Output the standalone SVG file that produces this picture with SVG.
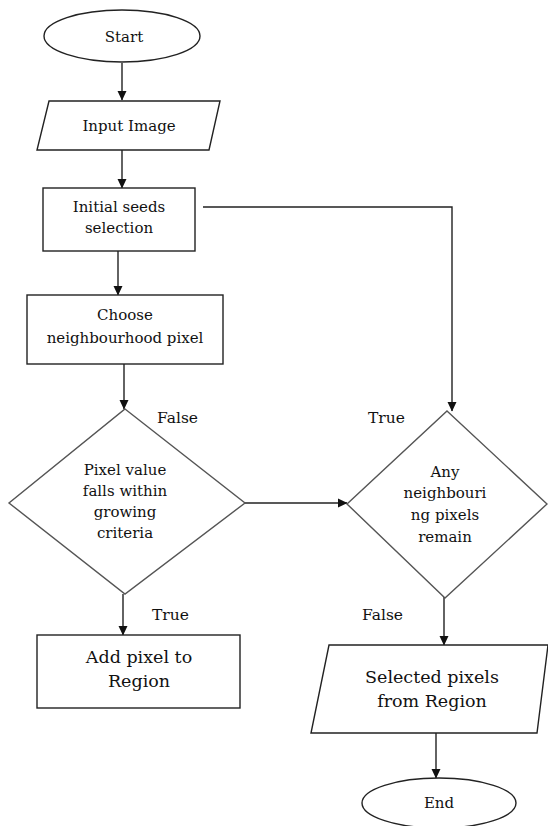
<svg xmlns="http://www.w3.org/2000/svg" width="548" height="826" viewBox="0 0 548 826">
<style>
.shape{fill:#fff;stroke:#222;stroke-width:1.4}
.dia{fill:#fff;stroke:#555;stroke-width:1.4}
.conn{fill:none;stroke:#222;stroke-width:1.4}
text{font-family:'DejaVu Serif',serif;fill:#111;text-anchor:middle}
.s{font-size:15px}
.b{font-size:17.5px}
.lbl{font-size:15.5px;text-anchor:start}
</style>
<defs>
<marker id="arr" markerWidth="10" markerHeight="10" refX="9" refY="5" orient="auto" markerUnits="userSpaceOnUse">
<path d="M0,0.5 L9.5,5 L0,9.5 Z" fill="#111"/>
</marker>
</defs>
<g id="connectors">
<line class="conn" x1="122" y1="63" x2="122" y2="100" marker-end="url(#arr)"/>
<line class="conn" x1="122" y1="150" x2="122" y2="188" marker-end="url(#arr)"/>
<line class="conn" x1="118" y1="251" x2="118" y2="295" marker-end="url(#arr)"/>
<line class="conn" x1="124" y1="364" x2="124" y2="409" marker-end="url(#arr)"/>
<polyline class="conn" points="203,207 452,207 452,411" marker-end="url(#arr)"/>
<line class="conn" x1="245" y1="503" x2="347" y2="503" marker-end="url(#arr)"/>
<line class="conn" x1="123" y1="594" x2="123" y2="635" marker-end="url(#arr)"/>
<line class="conn" x1="444" y1="597" x2="444" y2="645" marker-end="url(#arr)"/>
<line class="conn" x1="436" y1="733" x2="436" y2="778" marker-end="url(#arr)"/>
<text class="lbl" x="157" y="423">False</text>
<text class="lbl" x="368" y="423">True</text>
<text class="lbl" x="152" y="620">True</text>
<text class="lbl" x="362" y="620">False</text>
</g>
<g id="start">
<ellipse class="shape" cx="122" cy="36" rx="78" ry="26"/>
<text class="s" x="124" y="42">Start</text>
</g>
<g id="input">
<polygon class="shape" points="49,101 220,101 209,150 37,150"/>
<text class="s" x="129" y="131">Input Image</text>
</g>
<g id="seeds">
<rect class="shape" x="43" y="188" width="152" height="63"/>
<text class="s" x="119" y="212">Initial seeds</text>
<text class="s" x="119" y="233">selection</text>
</g>
<g id="choose">
<rect class="shape" x="27" y="295" width="196" height="69"/>
<text class="s" x="125" y="320">Choose</text>
<text class="s" x="125" y="343">neighbourhood pixel</text>
</g>
<g id="criteria">
<polygon class="dia" points="125,409 245,503 125,594 9,503"/>
<text class="s" x="125" y="475">Pixel value</text>
<text class="s" x="125" y="496">falls within</text>
<text class="s" x="125" y="517">growing</text>
<text class="s" x="125" y="538">criteria</text>
</g>
<g id="remain">
<polygon class="dia" points="447,411 547,504 445,598 347,504"/>
<text class="s" x="445" y="477">Any</text>
<text class="s" x="445" y="498">neighbouri</text>
<text class="s" x="445" y="520">ng pixels</text>
<text class="s" x="445" y="542">remain</text>
</g>
<g id="add">
<rect class="shape" x="37" y="635" width="203" height="73"/>
<text class="b" x="139" y="663">Add pixel to</text>
<text class="b" x="139" y="687">Region</text>
</g>
<g id="selected">
<polygon class="shape" points="329,645 548,645 537,733 311,733"/>
<text class="b" x="432" y="683">Selected pixels</text>
<text class="b" x="432" y="707">from Region</text>
</g>
<g id="end">
<ellipse class="shape" cx="439" cy="803" rx="77" ry="25"/>
<text class="s" x="439" y="808">End</text>
</g>
</svg>
